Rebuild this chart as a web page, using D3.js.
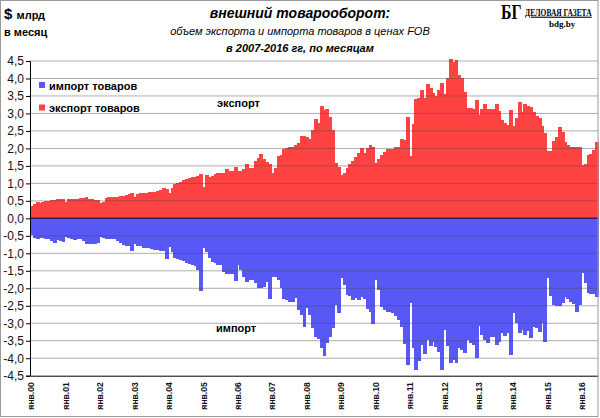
<!DOCTYPE html>
<html>
<head>
<meta charset="utf-8">
<script src="https://d3js.org/d3.v7.min.js"></script>
<style>
  body { margin: 0; background: #fff; }
  svg { display: block; font-family: "Liberation Sans", Arial, sans-serif; }
</style>
</head>
<body>
<div id="chart"></div>
<script>
// monthly values, $ bn, Jan 2000 .. Jun 2016
const exportValues = [
  0.36, 0.42, 0.48, 0.45, 0.47, 0.5, 0.5, 0.52, 0.53, 0.54, 0.55, 0.56,
  0.48, 0.54, 0.55, 0.56, 0.55, 0.57, 0.58, 0.6, 0.55, 0.54, 0.53, 0.52,
  0.45, 0.48, 0.58, 0.6, 0.6, 0.61, 0.62, 0.63, 0.64, 0.66, 0.7, 0.73,
  0.62, 0.7, 0.72, 0.72, 0.73, 0.75, 0.76, 0.75, 0.78, 0.8, 0.88, 0.85,
  0.73, 0.88, 0.98, 1.0, 1.03, 1.1, 1.12, 1.16, 1.17, 1.19, 1.2, 1.27,
  0.9, 1.24, 1.19, 1.2, 1.26, 1.29, 1.29, 1.3, 1.4, 1.34, 1.35, 1.48,
  1.34, 1.36, 1.4, 1.56, 1.43, 1.45, 1.65, 1.72, 1.84, 1.69, 1.6, 1.56,
  1.31, 1.43, 1.77, 1.8, 1.98, 2.0, 2.03, 2.05, 2.1, 2.15, 2.36, 2.36,
  2.34, 2.26, 2.53, 2.84, 2.72, 3.2, 3.1, 3.12, 2.91, 2.53, 1.58, 1.48,
  1.24, 1.31, 1.43, 1.55, 1.65, 1.75, 1.86, 2.0, 1.86, 2.0, 2.1, 2.03,
  1.58, 1.7, 1.81, 1.91, 1.98, 1.98, 1.98, 2.05, 2.05, 2.26, 2.24, 2.89,
  1.77, 2.7, 3.41, 3.45, 3.66, 3.44, 3.85, 3.72, 3.58, 3.5, 3.68, 3.87,
  3.56, 4.01, 4.56, 4.46, 4.53, 4.1, 4.01, 3.6, 3.15, 3.15, 3.12, 3.39,
  2.96, 3.12, 3.27, 3.12, 3.12, 3.12, 3.27, 3.06, 2.82, 2.74, 2.67, 3.1,
  2.65, 2.87, 3.32, 3.03, 3.27, 3.2, 3.18, 3.03, 2.93, 2.87, 2.63, 2.45,
  1.94, 1.94, 2.2, 2.34, 2.61, 2.48, 2.17, 2.1, 2.05, 2.05, 2.03, 2.03,
  1.53, 1.56, 1.81, 1.83, 1.96, 2.17,
];

const importValues = [
  -0.48, -0.55, -0.6, -0.57, -0.56, -0.58, -0.6, -0.64, -0.7, -0.62, -0.66, -0.69,
  -0.52, -0.56, -0.6, -0.62, -0.6, -0.58, -0.66, -0.72, -0.73, -0.73, -0.72, -0.7,
  -0.53, -0.56, -0.58, -0.58, -0.6, -0.6, -0.65, -0.7, -0.75, -0.78, -0.8, -0.92,
  -0.73, -0.78, -0.8, -0.84, -0.84, -0.86, -0.88, -0.9, -0.9, -0.92, -0.94, -1.16,
  -0.81, -0.95, -1.12, -1.15, -1.18, -1.22, -1.27, -1.3, -1.33, -1.36, -1.48, -2.08,
  -0.86, -0.95, -1.14, -1.24, -1.29, -1.33, -1.34, -1.53, -1.58, -1.58, -1.58, -1.79,
  -1.34, -1.48, -1.69, -1.81, -1.77, -1.77, -1.86, -2.0, -2.0, -1.96, -1.81, -2.31,
  -1.69, -1.69, -1.77, -2.0, -2.31, -2.34, -2.39, -2.39, -2.29, -2.63, -2.75, -3.12,
  -2.55, -2.77, -3.15, -3.39, -3.44, -3.72, -3.95, -3.56, -3.39, -3.15, -2.48, -2.7,
  -1.72, -1.91, -2.2, -2.22, -2.34, -2.29, -2.34, -2.26, -2.3, -2.58, -2.67, -3.03,
  -1.77, -2.05, -2.53, -2.63, -2.67, -2.68, -2.7, -2.8, -2.9, -3.1, -3.58, -4.18,
  -2.43, -3.72, -4.33, -4.08, -3.63, -3.87, -3.47, -3.66, -3.53, -3.68, -3.82, -4.33,
  -3.2, -3.66, -4.14, -4.06, -4.15, -3.72, -3.77, -3.85, -3.47, -3.56, -3.63, -3.98,
  -3.08, -3.34, -3.48, -3.56, -3.39, -3.39, -3.63, -3.53, -3.29, -3.36, -3.29, -3.92,
  -2.7, -2.99, -3.27, -3.2, -3.34, -3.22, -3.41, -3.1, -3.15, -3.24, -3.0, -3.53,
  -1.72, -2.22, -2.48, -2.51, -2.51, -2.41, -2.24, -2.31, -2.39, -2.45, -2.67, -2.48,
  -1.56, -1.84, -2.13, -2.15, -2.17, -2.24,
];

const yearLabels = [
  "янв.00", "янв.01", "янв.02", "янв.03", "янв.04", "янв.05", "янв.06", "янв.07", "янв.08",
  "янв.09", "янв.10", "янв.11", "янв.12", "янв.13", "янв.14", "янв.15", "янв.16",
];

const yTicks = [-4.5, -4, -3.5, -3, -2.5, -2, -1.5, -1, -0.5, 0, 0.5, 1, 1.5, 2, 2.5, 3, 3.5, 4, 4.5];

const seriesNames = ["импорт товаров", "экспорт товаров"];

// categories: month index from Jan 2000
const months = exportValues.map((v, i) => i);

const width = 600,
  height = 418;
const plot = { left: 30, right: 598, top: 61, bottom: 375.7 };

const exportColor = "#ff4242",
  importColor = "#5858f6";

const svg = d3
  .select("#chart")
  .append("svg")
  .attr("width", width)
  .attr("height", height);

const x = d3.scaleBand().domain(months).range([plot.left, plot.right]).padding(0);
const y = d3.scaleLinear().domain([-4.5, 4.5]).range([plot.bottom, plot.top]);

// bars
svg
  .append("g")
  .attr("shape-rendering", "crispEdges")
  .selectAll("rect")
  .data(exportValues)
  .join("rect")
  .attr("x", (d, i) => x(i))
  .attr("y", (d) => y(d))
  .attr("width", x.bandwidth() + 1)
  .attr("height", (d) => y(0) - y(d))
  .attr("fill", exportColor);

svg
  .append("g")
  .attr("shape-rendering", "crispEdges")
  .selectAll("rect")
  .data(importValues)
  .join("rect")
  .attr("x", (d, i) => x(i))
  .attr("y", y(0))
  .attr("width", x.bandwidth() + 1)
  .attr("height", (d) => y(d) - y(0))
  .attr("fill", importColor);

// gridlines on top of the bars
svg
  .append("g")
  .selectAll("line")
  .data(yTicks.filter((d) => d !== 0 && d !== -4.5))
  .join("line")
  .attr("x1", plot.left)
  .attr("x2", plot.right)
  .attr("y1", (d) => y(d))
  .attr("y2", (d) => y(d))
  .attr("stroke", "#4a4a4a")
  .attr("stroke-opacity", 0.45)
  .attr("stroke-width", 1);

// zero line
svg
  .append("line")
  .attr("x1", plot.left)
  .attr("x2", plot.right)
  .attr("y1", y(0))
  .attr("y2", y(0))
  .attr("stroke", "#23235e")
  .attr("stroke-width", 1.5);

// y axis
const yAxis = svg
  .append("g")
  .attr("transform", `translate(${plot.left}, 0)`)
  .call(
    d3
      .axisLeft(y)
      .tickValues(yTicks)
      .tickSize(4)
      .tickPadding(2)
      .tickFormat((d) => (d < 0 ? "-" : "") + Math.abs(d).toFixed(1).replace(".", ","))
  );
yAxis.select(".domain").attr("stroke", "#000");
yAxis.selectAll("text").style("font-size", "12px").attr("fill", "#111");

// x axis
const xAxis = svg
  .append("g")
  .attr("transform", `translate(0, ${plot.bottom})`)
  .call(
    d3
      .axisBottom(x)
      .tickValues(months.filter((m) => m % 12 === 0))
      .tickSize(0)
      .tickFormat((d) => yearLabels[d / 12])
  );
xAxis.select(".domain").attr("stroke", "#000");
xAxis
  .selectAll("text")
  .attr("transform", "rotate(-90)")
  .attr("x", -6.5)
  .attr("y", 0)
  .attr("dy", "0.35em")
  .style("text-anchor", "end")
  .style("font-size", "8.6px")
  .style("font-weight", "bold")
  .attr("fill", "#111");

// legend
const legend = svg.append("g").style("font-size", "11px").style("font-weight", "bold");
[importColor, exportColor].forEach((c, i) => {
  legend
    .append("rect")
    .attr("x", 39)
    .attr("y", 82 + i * 22.5)
    .attr("width", 6)
    .attr("height", 6)
    .attr("fill", c);
  legend
    .append("text")
    .attr("x", 49)
    .attr("y", 89.5 + i * 22.5)
    .text(seriesNames[i]);
});

// series captions inside plot
svg
  .append("text")
  .attr("x", 217)
  .attr("y", 106.5)
  .style("font-size", "11px")
  .style("font-weight", "bold")
  .text("экспорт");
svg
  .append("text")
  .attr("x", 216)
  .attr("y", 331.5)
  .style("font-size", "11px")
  .style("font-weight", "bold")
  .text("импорт");

// titles
const title = svg.append("g").attr("text-anchor", "middle").style("font-style", "italic");
title
  .append("text")
  .attr("x", 300)
  .attr("y", 18)
  .style("font-size", "14px")
  .style("font-weight", "bold")
  .text("внешний товарооборот:");
title
  .append("text")
  .attr("x", 300)
  .attr("y", 35)
  .style("font-size", "11px")
  .text("объем экспорта и импорта товаров в ценах FOB");
title
  .append("text")
  .attr("x", 300)
  .attr("y", 51.5)
  .style("font-size", "11px")
  .style("font-weight", "bold")
  .text("в 2007-2016 гг, по месяцам");

// units, top left
const units = svg.append("text").attr("x", 4).attr("y", 19).style("font-weight", "bold");
units.append("tspan").style("font-size", "15px").text("$ ");
units.append("tspan").style("font-size", "11px").text("млрд");
svg
  .append("text")
  .attr("x", 4)
  .attr("y", 36)
  .style("font-size", "11px")
  .style("font-weight", "bold")
  .text("в месяц");

// logo (condensed serif lettering)
const logo = svg
  .append("g")
  .style("font-family", '"Liberation Serif", "DejaVu Serif", serif')
  .style("font-weight", "bold");
logo
  .append("text")
  .attr("transform", "translate(501, 18.5) scale(0.72, 1)")
  .style("font-size", "22px")
  .text("БГ");
logo
  .append("text")
  .attr("transform", "translate(525, 15.5) scale(0.68, 1)")
  .style("font-size", "11px")
  .style("text-decoration", "underline")
  .text("ДЕЛОВАЯ ГАЗЕТА");
logo
  .append("text")
  .attr("x", 549)
  .attr("y", 26.5)
  .style("font-size", "9px")
  .text("bdg.by");

// outer frame
svg
  .append("rect")
  .attr("x", 0.5)
  .attr("y", 0.5)
  .attr("width", 597.5)
  .attr("height", 416)
  .attr("fill", "none")
  .attr("stroke", "#9a9a9a");
</script>
</body>
</html>
